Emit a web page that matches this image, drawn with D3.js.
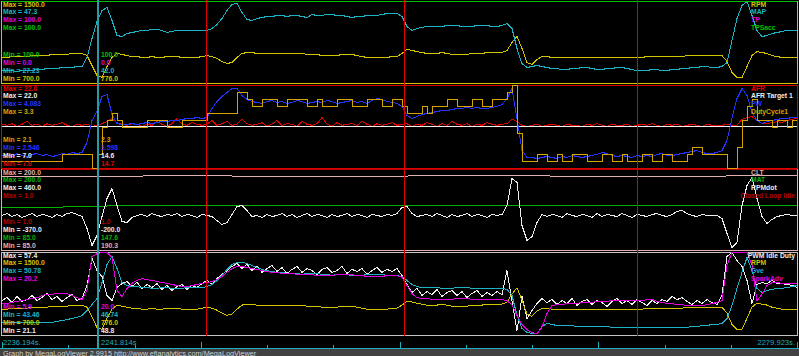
<!DOCTYPE html>
<html><head><meta charset="utf-8">
<script src="https://cdn.jsdelivr.net/npm/d3@7"></script>
<style>
html,body{margin:0;padding:0;background:#000;}
svg{display:block;}
text{font-family:"Liberation Sans",Arial,sans-serif;}
</style></head><body>
<svg id="c" width="799" height="356"></svg>
<script>
// ---------- time axis ----------
const timeStart = 2236.194, timeEnd = 2279.923;
const timeLabels = ["2236.194s.", "2241.814s", "2279.923s."];
const cursorTime = 2241.475;
const markerTimes = [2247.415, 2258.306, 2271.122];
const footerText = "Graph by MegaLogViewer 2.9915 http://www.efianalytics.com/MegaLogViewer";

// ---------- panel 1 ----------
const rpm = [954,954,963,963,963,963,973,973,973,973, 983,983,983,983,993,993,993,973,876,778,
 759,866,954,993,983,973,963,963,954,954, 963,954,954,963,963,963,954,954,954,954,
 963,973,963,944,915,895,905,954,993,1002, 1002,993,993,993,993,993,993,993,993,993,
 993,983,983,983,973,973,973,973,983,983, 983,973,963,954,954,954,954,954,963,963,
 993,1032,1022,1012,1002,993,993,993,1002,993, 983,983,983,983,993,993,993,1002,1002,1002,
 1002,1022,1100,1159,1041,905,885,934,963,963, 954,954,954,954,954,954,954,954,954,954,
 954,954,954,954,954,954,954,954,954, 963,963,963,963,963,963,963,963,
 973,973,973,973,973,973,973,973, 915,807,759,759,866,973,1012,1002,993,973,963,954,954,954,954];
const map = [30.41,30.41,30.41,30.16,30.41,30.41,30.41,30.65,30.65,30.90, 30.90,30.90,31.14,31.14,31.14,31.39,31.39,33.59,38.24,42.40,
 45.10,45.83,42.65,38.98,38.73,39.47,39.71,39.96,40.20,40.20, 40.45,40.45,40.20,39.71,39.96,40.20,40.20,40.20,40.20,40.20,
 40.20,40.20,40.69,41.67,43.14,45.10,46.57,46.81,44.61,42.89, 42.65,43.14,43.38,43.63,43.63,43.87,43.87,43.63,43.87,43.87,
 43.63,43.38,44.12,43.87,43.87,44.12,44.12,43.87,43.87,43.63, 43.38,43.63,43.63,43.87,43.87,43.87,44.12,44.36,44.36,44.36,
 43.63,41.18,40.20,40.69,40.94,41.18,41.18,41.18,41.18,41.42, 41.42,41.42,41.18,41.18,41.18,41.42,41.42,41.42,41.18,41.18,
 41.42,41.91,40.69,35.79,32.12,31.14,31.39,31.63,31.39,31.14, 30.90,30.90,30.65,30.65,30.90,30.90,31.14,31.14,30.90,30.65,
 30.65,30.90,30.90,31.14,31.14,30.90,30.65,30.41,30.41, 30.41,30.65,30.65,30.41,30.41,30.65,30.65,30.90,30.90,31.14,
 31.14,31.39,31.39,31.14,31.14,31.39, 32.37,37.75,43.14,46.32,47.30,43.87,40.20,38.73,
 38.98,39.47,39.71,39.96,40.20,40.20,40.20];
const tp = [0.0, 0.0];
const tpsAcc = [100.0, 100.0];

// ---------- panel 2 ----------
const afr = [15.0,14.8,15.1,14.6,15.0,15.5,14.8,15.0,14.6,15.1,14.8,15.0,15.3,14.8,14.6,15.0,14.8,
 15.0,14.6,14.8,15.1,15.5,16.0,15.3,15.0,
 14.8,15.1,15.0,14.6,15.0,14.8,15.5,15.0,14.6,15.1,16.0,15.0,14.8,15.3,15.0,14.8,
 15.0,15.7,14.8,15.1,15.5,14.8,15.0,15.9,15.1,14.8, 15.0,15.3,14.6,15.0,15.7,14.8,15.1,15.0,14.6,15.5,
 15.0,14.8,15.1,16.2,15.0,14.6,15.3,14.8,15.0,15.1, 14.8,15.5,15.0,14.6,15.1,14.8,15.0,15.3,14.8,
 15.0,15.1,14.6,15.0,14.8,15.3,15.0,14.6,15.1,14.8,15.5,15.0,14.8,15.1,14.6,15.0,14.8,15.3,15.0,14.8,15.0,
 15.1,15.9,15.5,14.8,
 14.6,14.8,15.0,14.6,14.8,15.0,14.8,14.6,15.0,14.8, 14.8,14.6,15.0,14.8,15.1,14.8,14.6,15.0,14.8,14.8,
 15.0,14.6,14.8,15.0,14.8,15.1,14.8,14.6,15.0,14.8, 15.0,14.6,14.8,15.0,14.8,14.6,15.0,14.8,14.8,
 14.8,15.0,14.8,14.8,15.9,16.2,16.4,15.7,15.1,15.1,15.3,15.5,15.3,15.7,15.9,16.0];
const afrTarget = [14.6, 14.6];
const pw = [2.787,2.805,2.768,2.824,2.787,2.768,2.805,2.824,2.787,2.805,2.768,2.787,2.824,2.805,2.842,2.824,2.842,
 3.027,3.435,3.601,3.879,3.916,3.546,3.379,3.361,
 3.361,3.379,3.361,3.379,3.398,3.379,3.398,3.416,3.416,3.435,3.435,3.453,3.472,3.472,3.490,3.472,
 3.490,3.657,3.787,3.879,3.953,4.027,4.027,3.898,3.824,3.787,
 3.768,3.750,3.787,3.805,3.768,3.787,3.750,3.768,3.805,3.787,3.750,3.768,3.787,3.768,3.805,3.787,3.750,3.768,3.787,3.805,3.768,3.787,3.750,3.805,3.842,3.824,3.787,3.768,3.750,
 3.694,3.527,3.472,3.509,
 3.546,3.564,3.583,3.601,3.620,3.620,3.638,3.657,3.657,3.676,3.657,3.676,3.657,3.657,3.676,3.694,3.731,
 3.842,4.027,3.472,2.879,2.750,
 2.750,2.731,2.750,2.768,2.750,2.731,2.768,2.750,2.787,2.768, 2.750,2.768,2.787,2.805,2.842,2.824,2.787,2.768,2.787,2.768,
 2.750,2.787,2.768,2.787,2.768,2.805,2.824,2.787,2.787,2.805, 2.824,2.842,2.861,2.879,2.842,2.824,2.824,2.842,
 2.879,3.064,3.472,3.842,4.027,3.898,3.583,3.435,3.379,3.416,3.435,3.453,3.472,3.472,3.490,3.490];
const dutyCycle1 = [2.2,2.2,2.2,2.2,2.2,2.2,2.2,2.2,2.2,2.2,2.2,2.2,
 2.3,2.3,2.3,2.3,2.3,2.3, 2.1,2.3,2.7,2.8,2.9,2.8, 2.7,2.7,2.7,2.7,2.7, 2.8,2.8,2.8,2.8, 2.7,2.7,2.7, 2.8,2.8,2.8,2.8,2.8,
 2.9,2.9,2.9,2.9,2.9,2.9, 3.2,3.2, 3.1,
 3.0,3.0,3.1,3.1,3.1,3.0,3.0,3.1,3.1,3.1,3.1,3.0,3.0,3.1,3.0,3.0,3.0,3.1,3.1,3.1,3.0,3.0,3.0,3.1,3.1,3.1,3.0,3.0,3.1,3.1,
 3.0, 2.9,2.9,2.9, 3.0,2.9,3.0,
 3.0,3.0,3.1,3.1,3.0,3.0,3.0,3.1,3.1,3.0,3.0,3.1,3.1,3.1,
 3.2,3.3,2.6,2.2,
 2.2,2.2,2.3,2.3,2.2,2.2,2.3,2.2,2.2,2.3, 2.3,2.3,2.2,2.2,2.2,2.3,2.3,2.2,2.2,2.3,
 2.2,2.2,2.2,2.3,2.3,2.2,2.2,2.3,2.3,2.2, 2.2,2.2,2.3,2.4,2.4,2.3,2.3,2.3,2.3,2.3,
 2.1,2.1,2.4,2.8,3.0,3.1,2.8, 2.8,2.8,2.7,2.8,2.8,2.7,2.8,2.8];

// ---------- panel 3 ----------
const clt = [190.3,190.3,190.3,191.0,191.0,190.3,190.3,190.3,191.0,191.0,191.0,190.3,190.3,190.3,191.0,191.0];
const mat = [146.5,146.5,148.2,149.0,149.0,149.0,149.0,149.0,149.0,149.0,149.0,149.0,148.2,148.2,149.0,149.0];
const rpmDot = [-11,9,-22,-1,-32,-11,9,-22,-1,-11,-32,-1,-22,9,19,-1,-22,
 -145,-319,-216,-22,163,265,91,-73,-83,-32,
 -11,-1,-22,9,-11,-22,-1,-11,9,-22,-1,-11,-32,-1,-11,
 -22,-63,-104,-83,-1,81,91,40,-22,
 -11,-32,-1,-22,-11,9,-22,-1,-32,-11,9,-22,-1,-11,-32,-1,-22,-11,9,-22,-1,-11,-32,-1,-11,-22,-1,-11,
 9,71,81,9,-22,
 -11,-1,-22,9,-11,-32,-1,-22,-11,9,-22,-1,-11,-32,-1,-11,-1,
 91,368,327,-114,-268,-227,-83,-1,
 -22,-1,-11,-32,9,-11,-22,-1,-11,-32,9,-22,-1,-11,-22,9,-11,-32,-1,-11,-22,-1,9,-11,-22,-1,30,40,9,-11,-22,-1,-11,-11,
 -11,-42,-196,-339,-288,91,296,378,163,-22,-93,-52,-22,-11,-1,-11,-11];
const closedLoopIdle = [1.0, 1.0];

// ---------- panel 4 ----------
const pwmIdleDuty = [36.4,37.7,35.5,38.2,36.0,36.8,38.6,36.4,37.7,39.5,36.8,38.2,36.0,37.7,39.0,36.4,37.3,
 43.0,54.8,49.5,46.9,38.6,36.4,42.1,43.8,44.7,
 42.5,44.3,41.7,43.4,42.1,43.8,41.2,43.0,40.8,42.5,43.4,41.2,43.0,42.1,43.8,
 45.2,43.4,46.0,47.8,49.5,51.3,
 52.6,50.4,52.2,49.5,51.3,48.7,50.4,51.7,49.1,50.8,48.2,50.0,51.3,48.7,50.4,49.5,47.8,50.0,50.8,48.7,49.5,51.3,48.2,50.0,49.1,50.4,47.8,49.5,50.8,48.7,50.0,49.1,50.4,
 47.3,43.4,
 39.9,41.7,38.6,40.3,39.0,41.2,38.2,39.9,40.8,38.6,40.3,37.7,39.5,40.8,38.2,39.9,38.6,40.3,39.0,
 49.5,36.4,23.3,38.2,28.5,32.0,35.1,37.3,
 35.5,36.8,34.7,36.4,35.1,37.3,34.2,36.0,36.8,34.7,36.4,35.5,33.8,36.0,37.3,35.1,36.4,34.7,36.8,35.5,34.2,36.4,35.1,36.8,36.0,38.2,36.8,37.7,36.0,34.7,36.4,35.1,36.8,35.5,34.7,
 38.6,55.7,57.4,53.9,51.3,45.2,35.1,43.4,44.3,43.8,45.2,43.8,43.8,43.4,43.0,42.1];
const gve = [44.61,44.61,44.61,44.61,44.61,44.61,44.61,44.61,44.61,44.61,44.61,
 44.70,44.78,44.87,44.96,45.05,45.22,45.67,46.19,46.72,48.13,49.72,50.43,49.37,48.13,47.87,
 47.78,47.78,47.69,47.69,47.61,47.61,47.69,47.69,47.61,47.61,47.61,47.69,47.69,47.69,47.69,
 47.78,47.96,48.31,48.75,49.28,49.72,49.90,49.90,49.81,49.63,49.46,49.28,49.19,
 49.10,49.02,49.02,48.93,48.93,48.93,48.84,48.93,48.93,48.93,48.84,48.84,48.75,48.84,48.84,48.84,48.75,48.75,48.75,48.84,48.84,48.84,48.84,48.75,48.75,48.75,
 48.66,48.31,47.96,47.78,
 47.69,47.69,47.69,47.69,47.61,47.61,47.61,47.69,47.69,47.69,47.61,47.61,47.61,47.61,47.61,47.61,47.61,
 47.52,46.99,45.22,44.08,43.73,43.64,43.64,44.25,44.52,
 44.43,44.34,44.34,44.34,44.34,44.25,44.25,44.25,44.25,44.25,44.25,44.25,
 44.17,44.17,44.17,44.17,44.17,44.17,44.17,44.17,44.17,44.17,44.17,44.17,44.17,44.17,44.17,44.17,
 44.25,44.25,44.34,44.34,44.43,44.43,44.52,44.96,46.11,47.61,49.02,50.34,49.19,47.61,47.25,47.43,47.52,47.61,47.61,47.69,47.78,47.87];
const sparkAdv = [11.4,11.4,11.6,11.8,11.9,12.1,12.3,12.4,12.8,13.0,13.0,13.1,13.1,13.1,12.8,12.4,12.1,13.7,19.5,20.0,20.2,20.2,19.3,13.7,12.6,14.0,14.9,15.4,15.7,
 15.5,15.4,15.2,15.0,14.9,14.7,14.5,14.3,14.3,14.5,14.7,14.9,
 15.0,15.2,15.5,16.1,16.8,17.4,17.8,17.8,
 17.6,17.4,17.3,17.1,16.9,16.8,16.8,16.6,16.6,16.6,16.4,16.4,16.4,16.4,16.2,16.2,16.2,16.2,16.4,16.4,16.4,16.4,16.2,16.2,16.1,16.1,16.1,16.1,16.2,16.2,16.2,
 15.9,14.5,13.1,12.4,
 12.3,12.3,12.1,12.1,12.1,12.1,12.1,12.3,12.3,12.3,12.1,12.1,12.1,12.1,12.1,12.1,12.1,
 11.9,11.2,9.3,7.8,6.9,6.4,6.2,7.3,9.7,11.1,
 11.2,11.2,11.4,11.4,11.4,11.6,11.6,11.6,11.8,11.8,11.8,11.9,11.9,11.9,11.9,11.9,11.9,
 11.9,12.1,12.1,11.8,11.6,11.4,11.4,11.2,11.2,11.1,11.1,11.1,11.1,11.2,11.4,11.6,11.9,18.0,20.2,20.2,20.2,20.2,18.0,11.9,13.0,14.5,15.0,15.0,14.9,14.9,14.9,14.9];

// ---------- panel definitions (built from the arrays above) ----------
const C = {rpm:"#d4c400", map:"#1cb4c4", tp:"#e000e0", tps:"#00c000", afr:"#e00000", white:"#eeeeee",
  pw:"#2434ff", duty:"#d4a400", clt:"#e0b0b0", mat:"#00b400", cli:"#b40000"};
const panels = [
  {top:1, bottom:83, border:C.rpm, series:[
    {name:"RPM", data:rpm, min:700, max:1500, color:C.rpm, maxL:"1500.0", minL:"700.0", cur:"776.0"},
    {name:"MAP", data:map, min:27.23, max:47.3, color:C.map, maxL:"47.3", minL:"27.23", cur:"42.0"},
    {name:"TP", data:tp, min:0, max:100, color:C.tp, maxL:"100.0", minL:"0.0", cur:"0.0", under:true},
    {name:"TPSacc", data:tpsAcc, min:100, max:100, color:C.tps, maxL:"100.0", minL:"100.0", cur:"100.0"}]},
  {top:85, bottom:168, border:C.afr, series:[
    {name:"AFR", data:afr, min:7, max:22, color:C.afr, maxL:"22.0", minL:"7.0", cur:"14.7"},
    {name:"AFR Target 1", data:afrTarget, min:7, max:22, color:C.white, maxL:"22.0", minL:"7.0", cur:"14.6"},
    {name:"PW", data:pw, min:2.546, max:4.083, color:C.pw, maxL:"4.083", minL:"2.546", cur:"3.598"},
    {name:"DutyCycle1", data:dutyCycle1, min:2.1, max:3.3, color:C.duty, maxL:"3.3", minL:"2.1", cur:"2.3", step:true}]},
  {top:169, bottom:250, border:C.clt, series:[
    {name:"CLT", data:clt, min:85, max:200, color:C.clt, maxL:"200.0", minL:"85.0", cur:"190.3"},
    {name:"MAT", data:mat, min:85, max:200, color:C.mat, maxL:"200.0", minL:"85.0", cur:"147.6"},
    {name:"RPMdot", data:rpmDot, min:-370, max:460, color:C.white, maxL:"460.0", minL:"-370.0", cur:"-200.0"},
    {name:"Closed Loop Idle", data:closedLoopIdle, min:1, max:1, color:C.cli, maxL:"1.0", minL:"1.0", cur:"1.0"}]},
  {top:252, bottom:335, border:"#c4c4c4", series:[
    {name:"PWM Idle Duty", data:pwmIdleDuty, min:21.1, max:57.4, color:C.white, maxL:"57.4", minL:"21.1", cur:"48.8"},
    {name:"RPM", data:rpm, min:700, max:1500, color:C.rpm, maxL:"1500.0", minL:"700.0", cur:"776.0"},
    {name:"Gve", data:gve, min:43.46, max:50.78, color:C.map, maxL:"50.78", minL:"43.46", cur:"46.74"},
    {name:"SparkAdv", data:sparkAdv, min:5.9, max:20.2, color:C.tp, maxL:"20.2", minL:"5.9", cur:"20.0"}]}
];

// ---------- drawing ----------
const W = 799, H = 356, X0 = 2, X1 = 797;
const svg = d3.select("#c");
svg.append("rect").attr("width", W).attr("height", H).attr("fill", "#000");
const xTime = d3.scaleLinear().domain([timeStart, timeEnd]).range([X0, X1]);

const gUnder = svg.append("g");
const gBorder = svg.append("g");
const gLines = svg.append("g");
const gMarks = svg.append("g");
const gText = svg.append("g");

const FS = 6.8, ROW = 7.8;
panels.forEach(p => {
  gBorder.append("rect")
    .attr("x", 1.5).attr("y", p.top + 0.5)
    .attr("width", 796).attr("height", p.bottom - p.top)
    .attr("fill", "none").attr("stroke", p.border).attr("stroke-width", 1)
    .attr("shape-rendering", "crispEdges");

  p.series.forEach((s, k) => {
    const y = d3.scaleLinear().domain([s.min, s.max]).range([p.bottom + 0.5, p.top + 0.5]);
    const yv = s.min === s.max ? () => p.top + 0.5 : v => y(v);
    const xs = d3.scaleLinear().domain([0, s.data.length - 1]).range([X0, X1]);
    const line = d3.line().x((d, i) => xs(i)).y(d => yv(d))
      .curve(s.step ? d3.curveStepAfter : d3.curveLinear);
    (s.under ? gUnder : gLines).append("path")
      .attr("d", line(s.data)).attr("fill", "none")
      .attr("stroke", s.color).attr("stroke-width", 1)
      .attr("shape-rendering", "crispEdges");

    const t = (x, yy, str) => gText.append("text").attr("x", x).attr("y", yy)
      .attr("font-size", FS).attr("font-weight", "bold").attr("fill", s.color).text(str);
    t(3, p.top + 5.6 + k * ROW, "Max = " + s.maxL);
    const yb = p.bottom - 2.4 - k * ROW;
    t(3, yb, "Min = " + s.minL);
    t(xTime(cursorTime) + 3, yb, s.cur);
    const lg = t(751, p.top + 5.6 + k * ROW, s.name);
    const w = lg.node().getComputedTextLength();
    lg.attr("x", Math.min(751, 795 - w));
  });
});

// markers
markerTimes.forEach(tm => {
  const xm = Math.round(xTime(tm)) + 0.5;
  gMarks.append("line").attr("x1", xm).attr("x2", xm)
    .attr("y1", 0).attr("y2", 336).attr("stroke", "#e00000").attr("stroke-width", 1)
    .attr("shape-rendering", "crispEdges");
});
// cursor
gMarks.append("line").attr("x1", xTime(cursorTime)).attr("x2", xTime(cursorTime))
  .attr("y1", 0).attr("y2", 348).attr("stroke", "#2a9aa4").attr("stroke-width", 2)
  .attr("shape-rendering", "crispEdges");

// time axis
const step = (timeEnd - timeStart) / 12;
const tickVals = d3.range(13).map(k => timeStart + k * step);
const axisCol = "#20aebe";
const minorAxis = d3.axisTop(xTime).tickValues(tickVals.filter((d, k) => k % 3 !== 0))
  .tickSize(4).tickSizeOuter(0).tickFormat("");
const majorAxis = d3.axisTop(xTime).tickValues(tickVals.filter((d, k) => k % 3 === 0))
  .tickSize(7).tickSizeOuter(0).tickFormat("");
[minorAxis, majorAxis].forEach(ax => {
  const g = svg.append("g").attr("transform", "translate(0,348.5)").call(ax);
  g.selectAll("path,line").attr("stroke", axisCol).attr("shape-rendering", "crispEdges");
});
svg.append("line").attr("x1", 0).attr("x2", W).attr("y1", 348.5).attr("y2", 348.5)
  .attr("stroke", axisCol).attr("shape-rendering", "crispEdges");

const tl = (x, str, anchor) => svg.append("text").attr("x", x).attr("y", 345)
  .attr("font-size", 7.6).attr("fill", axisCol).attr("text-anchor", anchor).text(str);
tl(3, timeLabels[0], "start");
tl(xTime(cursorTime) + 3, timeLabels[1], "start");
tl(795, timeLabels[2], "end");

// footer
svg.append("rect").attr("x", 0).attr("y", 349).attr("width", W).attr("height", 7).attr("fill", "#424242");
svg.append("text").attr("x", 3).attr("y", 355.5).attr("font-size", 7.3).attr("fill", "#d0d0d0").text(footerText);
</script>
</body></html>
